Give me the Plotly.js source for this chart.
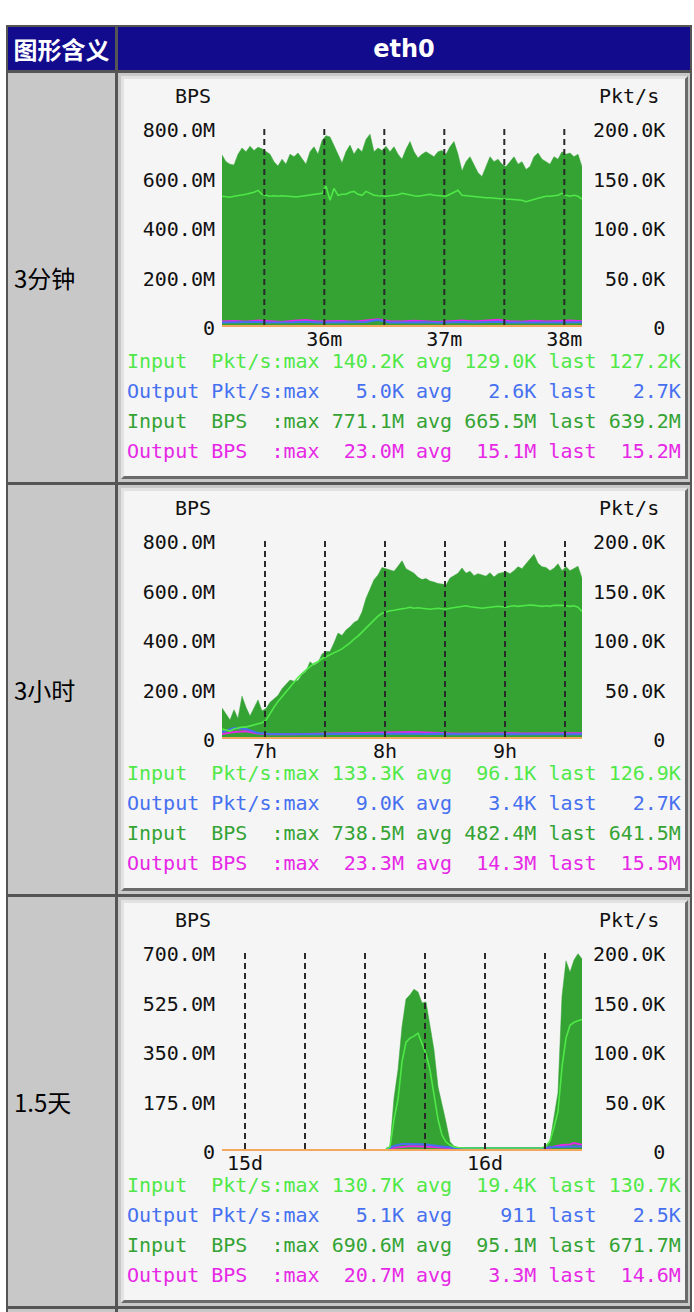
<!DOCTYPE html>
<html><head><meta charset="utf-8">
<script src="https://cdn.plot.ly/plotly-3.0.1.min.js"></script>
<style>
html,body{margin:0;padding:0;background:#fff;width:694px;height:1312px;overflow:hidden;position:relative;}
#tbl{position:absolute;left:6px;top:25px;width:686px;height:1300px;background:#555;}
.cell{position:absolute;background:#c8c8c8;box-sizing:border-box;}
.hdr{background:#130b8d;color:#fff;font-weight:bold;display:flex;align-items:center;justify-content:center;}
.lbl{font-family:"Noto Sans CJK SC","Noto Sans";font-size:24px;color:#000;display:flex;align-items:center;padding-left:6px;}
.img{position:absolute;box-sizing:border-box;border-style:solid;border-width:3px;border-color:#e2e2e2 #6a6a6a #6a6a6a #e2e2e2;background:#f5f5f5;}
.plot{position:absolute;left:0;top:0;width:561px;height:397px;}
</style></head>
<body>
<div id="tbl"></div>
<div id="page"></div>
<script>
// ---------- table text ----------
const headerLabels = ['图形含义', 'eth0'];
const rowLabels = ['3分钟', '3小时', '1.5天'];

// ---------- legend text ----------
const seriesNames = ['Input', 'Output', 'Input', 'Output'];
const seriesUnits = ['Pkt/s', 'Pkt/s', 'BPS', 'BPS'];
const p1Max  = ['140.2K', '5.0K', '771.1M', '23.0M'];
const p1Avg  = ['129.0K', '2.6K', '665.5M', '15.1M'];
const p1Last = ['127.2K', '2.7K', '639.2M', '15.2M'];
const p2Max  = ['133.3K', '9.0K', '738.5M', '23.3M'];
const p2Avg  = ['96.1K', '3.4K', '482.4M', '14.3M'];
const p2Last = ['126.9K', '2.7K', '641.5M', '15.5M'];
const p3Max  = ['130.7K', '5.1K', '690.6M', '20.7M'];
const p3Avg  = ['19.4K', '911', '95.1M', '3.3M'];
const p3Last = ['130.7K', '2.5K', '671.7M', '14.6M'];

// ---------- axes ----------
const leftTitle = 'BPS', rightTitle = 'Pkt/s';
const p1LeftVals = [0, 200, 400, 600, 800];
const p1LeftText = ['0', '200.0M', '400.0M', '600.0M', '800.0M'];
const p3LeftVals = [0, 175, 350, 525, 700];
const p3LeftText = ['0', '175.0M', '350.0M', '525.0M', '700.0M'];
const rightVals = [0, 50, 100, 150, 200];
const rightText = ['0', '50.0K', '100.0K', '150.0K', '200.0K'];

// panel 1: seconds after 35:00
const p1XRange = [8.85, 188.85];
const p1TickVals = [60, 120, 180];
const p1TickText = ['36m', '37m', '38m'];
const p1Grid = [30, 60, 90, 120, 150, 180];
// panel 2: minutes after 6:00
const p2XRange = [38.5, 218.5];
const p2TickVals = [60, 120, 180];
const p2TickText = ['7h', '8h', '9h'];
const p2Grid = [60, 90, 120, 150, 180, 210];
// panel 3: hours after day 15 00:00
const p3XRange = [-2.3, 33.7];
const p3TickVals = [0, 24];
const p3TickText = ['15d', '16d'];
const p3Grid = [0, 6, 12, 18, 24, 30];

// ---------- data (BPS in M, Pkt/s in K) ----------
// panel 1: input samples every 2 s from 8.85 s; output samples every 6 s
const p1InStart = 8.85, p1InStep = 2, p1OutStep = 6;
const p1InBps = [687,660,650,646,690,715,700,722,705,718,712,700,690,660,642,670,650,690,680,695,
 672,650,700,720,690,745,765,760,725,690,655,700,727,690,715,700,750,771,700,715,
 705,722,700,720,690,670,710,741,700,675,690,700,690,680,700,705,690,720,741,690,
 622,660,680,650,615,600,640,680,660,670,650,640,660,680,650,660,628,640,680,695,
 670,660,650,680,670,700,690,695,680,690,639];
const p1InPkt = [130,129.5,129,130,130.5,131,132,133,134,136,132,131,130,130.5,130,130.5,130,130,129.5,129.5,
 130,130.5,131,131.5,132,133,140.2,126,138,131,132,132,134,135,132,131,135,133,131,130.5,
 130,130,130.5,131,131.5,133,132,131,130.5,130,130.5,131,132,131,130.5,130,130,132,134,136,
 131,130.5,130,129.5,129,129,128.5,128.5,128,127.5,127.5,127,127,126.5,126,126,124.6,125.5,127,128,
 129,130,130,130.5,131,133,131,130,131,130,127.2];
const p1OutBps = [14,16,13,18,15,12,17,20,14,15,16,13,19,23,15,14,17,16,12,15,18,14,16,21,15,13,17,14,16,18,15.2];
const p1OutPkt = [2.6,2.8,2.4,3.0,2.5,2.3,2.7,3.2,2.5,2.6,2.8,2.4,3.1,5.0,2.6,2.5,2.9,2.7,2.2,2.5,3.0,2.4,2.6,3.4,2.5,2.3,2.8,2.4,2.6,2.9,2.7];

// panel 2: input samples every 2 min from 38.5 min; output every 6 min
const p2InStart = 38.5, p2InStep = 2, p2OutStep = 6;
const p2InBps = [117,95,69,110,75,165,120,85,120,150,105,115,140,155,168,195,212,230,225,228,
 252,265,304,290,300,335,345,345,380,420,410,432,445,463,472,505,560,600,635,655,
 685,680,675,670,690,712,680,670,662,645,636,640,630,626,620,618,614,642,652,662,
 683,662,670,652,660,656,650,664,646,660,665,668,660,672,688,680,700,718,738,702,
 688,685,672,682,700,672,688,672,680,690,641.5];
const p2InPkt = [8,7,6,8,9,10,10,11,12,13,14.5,17,24,30,36,41,46,51,55,60,
 64,68,71,74,76,79,81,83,85,87,89,92,95,99,102,106,110,115,119,122,
 125,126.6,127.5,128,129,129.5,130,131,130,130.5,130,129.5,129,129.5,130,129.5,129,130,130.5,131,
 132,132.5,131.5,131,130.5,130,130.5,131,131.5,132,131.5,131,132,132.5,132,132.5,133,133.3,133,132.5,
 132,132.5,132,133,133.2,133,132.5,132,132.5,131,126.9];
const p2OutBps = [12,20,23.3,14,11,10,11,12,13,13,14,15,17,19,20,21,20,18,15,14,13,14,14,15,15,14,15,16,15,15,15.5];
const p2OutPkt = [5,9,8,4,3,2.8,2.6,2.7,2.8,3,3.1,3.3,3.5,3.6,3.5,3.4,3.2,3.0,3.4,2.9,2.8,2.9,3.0,2.9,2.8,2.8,2.7,2.8,2.7,2.8,2.7];

// panel 3: samples every 0.4 h from 14.1 h
const p3InStart = 14.1, p3InStep = 0.4, p3OutStep = 0.4;
const p3InBps = [0,10,180,280,432,530,545,565,555,516,520,440,350,220,162,95,26,10,5,4,
 3,3,3,3,3,3,3,3,3,3,3,3,3,3,3,3,3,3,3,3,
 5,26,120,200,540,665,625,668,690.6,671.7];
const p3InPkt = [0,2,30,50,88,108,112,114,117,106,96,80,55,30,14,7,4,2,1.5,1,
 1,1,1,1,1,1,1,1,1,1,1,1,1,1,1,1,1,1,1,1,
 3,8,22,38,83,112,125,128,129.5,130.7];
const p3OutBps = [0,0.5,4,6,8,9,10,10,10,9,9,8,7,6,4,2,1,0.5,0.3,0.3,
 0.3,0.3,0.3,0.3,0.3,0.3,0.3,0.3,0.3,0.3,0.3,0.3,0.3,0.3,0.3,0.3,0.3,0.3,0.3,0.3,
 2,5,8,12,14,15,16,20.7,18,14.6];
const p3OutPkt = [0,1,3,4,5,5,5.1,5,5,4.8,4.5,4,3.5,2.5,2,1.5,1.2,1,1,1,
 1,1,1,1,1,1,1,1,1,1,1,1,1,1,1,1,1,1,1,1,
 1.2,1.8,2,2.2,2.4,2.5,2.5,2.5,2.5,2.5];

// ---------- colours ----------
const cInPkt = '#50e848', cOutPkt = '#4670f0', cInBps = '#34a334', cOutBps = '#e628e6';
const legendColors = [cInPkt, cOutPkt, cInBps, cOutBps];

// ---------- build the table ----------
const page = document.getElementById('page');
function addDiv(cls, l, t, w, h, html) {
  const d = document.createElement('div');
  d.className = cls;
  d.style.left = l + 'px'; d.style.top = t + 'px';
  d.style.width = w + 'px'; d.style.height = h + 'px';
  if (html !== undefined) d.textContent = html;
  page.appendChild(d);
  return d;
}
const h1 = addDiv('cell hdr', 8, 27, 107, 43, headerLabels[0]);
h1.style.fontFamily = '"Noto Sans CJK SC"'; h1.style.fontSize = '24px';
const h2 = addDiv('cell hdr', 118, 27, 572, 43, headerLabels[1]);
h2.style.fontFamily = '"DejaVu Sans"'; h2.style.fontSize = '24px';

const rowPitch = 412, rowTop0 = 73;
const plotDivs = [];
for (let i = 0; i < 4; i++) {
  const top = rowTop0 + rowPitch * i;
  addDiv('cell lbl', 8, top, 107, 409, i < 3 ? rowLabels[i] : '');
  addDiv('cell', 118, top, 572, 409);
  if (i < 3) {
    const img = addDiv('img', 121, top + 3, 567, 403);
    const p = document.createElement('div');
    p.className = 'plot';
    img.appendChild(p);
    plotDivs.push(p);
  }
}

// ---------- helpers ----------
function times(start, step, n) { const a = []; for (let i = 0; i < n; i++) a.push(+(start + i * step).toFixed(4)); return a; }
const NB = '\u00a0';
function padEnd(s, n) { while (s.length < n) s += ' '; return s; }
function padStart(s, n) { while (s.length < n) s = ' ' + s; return s; }
function legendLine(k, mx, av, ls) {
  const s = padEnd(seriesNames[k], 7) + padEnd(seriesUnits[k], 5) + ':max ' + padStart(mx[k], 6) +
    ' avg ' + padStart(av[k], 6) + ' last ' + padStart(ls[k], 6);
  return s.replace(/ /g, NB);
}

const PW = 360, PH = 198, ML = 98, MT = 48;
function px(ix) { return (ix - ML) / PW; }
function py(iy) { return (MT + PH - iy) / PH; }

function makePanel(div, cfg) {
  const inX = times(cfg.inStart, cfg.inStep, cfg.inBps.length);
  const outX = times(cfg.inStart, cfg.outStep, cfg.outBps.length);
  const traces = [
    {x: inX, y: cfg.inBps, yaxis: 'y', type: 'scatter', mode: 'lines', fill: 'tozeroy',
     fillcolor: cInBps, line: {color: cInBps, width: 0.5}, hoverinfo: 'skip'},
    {x: outX, y: cfg.outBps, yaxis: 'y', type: 'scatter', mode: 'lines',
     line: {color: cOutBps, width: 2}, hoverinfo: 'skip'},
    {x: outX, y: cfg.outPkt, yaxis: 'y2', type: 'scatter', mode: 'lines',
     line: {color: cOutPkt, width: 2}, hoverinfo: 'skip'},
    {x: inX, y: cfg.inPkt, yaxis: 'y2', type: 'scatter', mode: 'lines',
     line: {color: cInPkt, width: 1.6}, hoverinfo: 'skip'}
  ];
  const font = {family: 'DejaVu Sans Mono', size: 20, color: '#111'};
  const shapes = cfg.grid.map(g => ({type: 'line', xref: 'x', yref: 'paper', x0: g, x1: g, y0: 0, y1: 1,
    layer: 'above', line: {color: '#2a2a2a', width: 2, dash: '6px,4px'}}));
  const annotations = [
    {text: leftTitle, xref: 'paper', yref: 'paper', x: px(69), y: py(17), xanchor: 'center', yanchor: 'middle',
     showarrow: false, font: font, borderpad: 0},
    {text: rightTitle, xref: 'paper', yref: 'paper', x: px(505), y: py(17), xanchor: 'center', yanchor: 'middle',
     showarrow: false, font: font, borderpad: 0}
  ];
  const legY = [281.9, 311.9, 341.9, 371.9];
  for (let k = 0; k < 4; k++) {
    annotations.push({text: legendLine(k, cfg.mx, cfg.av, cfg.ls), xref: 'paper', yref: 'paper',
      x: px(2), y: py(legY[k]), xanchor: 'left', yanchor: 'middle', showarrow: false, borderpad: 0,
      font: {family: 'DejaVu Sans Mono', size: 20, color: legendColors[k]}});
  }
  const rText = rightText.map(t => padStart(t, 6).replace(/ /g, NB));
  const layout = {
    width: 561, height: 397,
    margin: {l: ML, r: 561 - ML - PW, t: MT, b: 397 - MT - PH, pad: 0},
    paper_bgcolor: '#f5f5f5', plot_bgcolor: '#f5f5f5',
    showlegend: false, font: font,
    xaxis: {range: cfg.xRange, tickvals: cfg.tickVals, ticktext: cfg.tickText, showgrid: false, zeroline: false,
      showline: true, linecolor: '#f2a65e', linewidth: 2, ticks: '', ticklabelstandoff: -5, fixedrange: true},
    yaxis: {range: [0, cfg.leftVals[cfg.leftVals.length - 1]], tickvals: cfg.leftVals, ticktext: cfg.leftText,
      showgrid: false, zeroline: false, showline: false, ticks: '', ticklabelstandoff: 6, ticklabelshift: 3,
      fixedrange: true},
    yaxis2: {range: [0, 200], overlaying: 'y', side: 'right', tickvals: rightVals, ticktext: rText,
      showgrid: false, zeroline: false, showline: false, ticks: '', ticklabelstandoff: 10, ticklabelshift: 3,
      fixedrange: true},
    shapes: shapes, annotations: annotations
  };
  Plotly.newPlot(div, traces, layout, {staticPlot: true, displayModeBar: false});
}

makePanel(plotDivs[0], {inStart: p1InStart, inStep: p1InStep, outStep: p1OutStep,
  inBps: p1InBps, inPkt: p1InPkt, outBps: p1OutBps, outPkt: p1OutPkt,
  xRange: p1XRange, tickVals: p1TickVals, tickText: p1TickText, grid: p1Grid,
  leftVals: p1LeftVals, leftText: p1LeftText, mx: p1Max, av: p1Avg, ls: p1Last});
makePanel(plotDivs[1], {inStart: p2InStart, inStep: p2InStep, outStep: p2OutStep,
  inBps: p2InBps, inPkt: p2InPkt, outBps: p2OutBps, outPkt: p2OutPkt,
  xRange: p2XRange, tickVals: p2TickVals, tickText: p2TickText, grid: p2Grid,
  leftVals: p1LeftVals, leftText: p1LeftText, mx: p2Max, av: p2Avg, ls: p2Last});
makePanel(plotDivs[2], {inStart: p3InStart, inStep: p3InStep, outStep: p3OutStep,
  inBps: p3InBps, inPkt: p3InPkt, outBps: p3OutBps, outPkt: p3OutPkt,
  xRange: p3XRange, tickVals: p3TickVals, tickText: p3TickText, grid: p3Grid,
  leftVals: p3LeftVals, leftText: p3LeftText, mx: p3Max, av: p3Avg, ls: p3Last});
</script>
</body></html>
